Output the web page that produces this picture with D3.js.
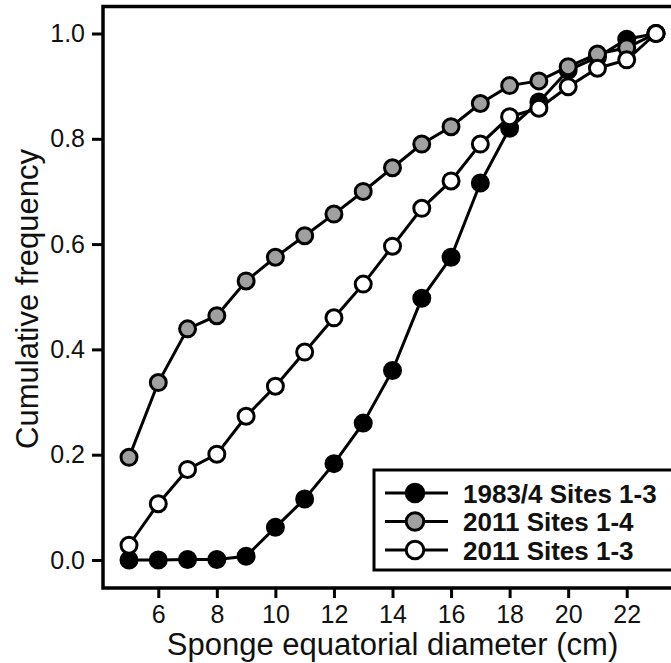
<!DOCTYPE html>
<html>
<head>
<meta charset="utf-8">
<script src="https://cdn.jsdelivr.net/npm/d3@7"></script>
<style>
  html, body { margin: 0; padding: 0; background: #fff; }
  svg { display: block; font-family: "Liberation Sans", Arial, Helvetica, sans-serif; }
</style>
</head>
<body>
<svg id="chart" width="671" height="663"></svg>
<script>
// ---- data ----
const diameters = [5,6,7,8,9,10,11,12,13,14,15,16,17,18,19,20,21,22,23];
const sites1983 = [0,0,0.001,0.001,0.007,0.062,0.116,0.183,0.260,0.360,0.497,0.575,0.716,0.820,0.870,0.930,0.955,0.989,1.0];
const sites2011_14 = [0.195,0.337,0.439,0.464,0.530,0.575,0.616,0.657,0.700,0.745,0.790,0.823,0.867,0.901,0.910,0.937,0.961,0.973,1.0];
const sites2011_13 = [0.028,0.107,0.172,0.201,0.273,0.330,0.395,0.460,0.524,0.596,0.668,0.720,0.790,0.842,0.858,0.899,0.934,0.950,1.0];
const seriesNames = ["1983/4 Sites 1-3", "2011 Sites 1-4", "2011 Sites 1-3"];
const seriesFills = ["#000000", "#a0a0a0", "#ffffff"];
const xTicks = [6,8,10,12,14,16,18,20,22];
const yTicks = [0,0.2,0.4,0.6,0.8,1.0];

const series = [sites1983, sites2011_14, sites2011_13].map((vals, i) => ({
  name: seriesNames[i], fill: seriesFills[i],
  points: diameters.map((d, j) => ({x: d, y: vals[j]}))
}));

const svg = d3.select("#chart");
const frame = {left: 103, top: 6.5, right: 690, bottom: 588};

const x = d3.scaleLinear().domain([5, 23]).range([129, 656]);
const y = d3.scaleLinear().domain([0, 1]).range([560, 33.5]);

// frame
svg.append("rect")
  .attr("x", frame.left).attr("y", frame.top)
  .attr("width", frame.right - frame.left).attr("height", frame.bottom - frame.top)
  .attr("fill", "none").attr("stroke", "#000").attr("stroke-width", 3.5);

// axes
const xAxis = svg.append("g").attr("transform", `translate(0,${frame.bottom})`)
  .call(d3.axisBottom(x).tickValues(xTicks).tickFormat(d3.format("d")).tickSize(10).tickPadding(7));
const yAxis = svg.append("g").attr("transform", `translate(${frame.left},0)`)
  .call(d3.axisLeft(y).tickValues(yTicks).tickFormat(d3.format(".1f")).tickSize(11).tickPadding(7));
[xAxis, yAxis].forEach(g => {
  g.select(".domain").remove();
  g.selectAll(".tick line").attr("stroke", "#000").attr("stroke-width", 3);
  g.selectAll(".tick text").attr("fill", "#111").style("font-size", "25px")
    .style("font-family", '"Liberation Sans", Arial, sans-serif');
});

// axis titles
svg.append("text")
  .attr("x", (x(5) + x(23)) / 2 + 0).attr("y", 655)
  .attr("text-anchor", "middle").style("font-size", "31px").attr("fill", "#111")
  .text("Sponge equatorial diameter (cm)");
svg.append("text")
  .attr("transform", "translate(38,299) rotate(-90)")
  .attr("text-anchor", "middle").style("font-size", "31px").attr("fill", "#111")
  .text("Cumulative frequency");

// series
const line = d3.line().x(d => x(d.x)).y(d => y(d.y));
series.forEach(s => {
  const g = svg.append("g");
  g.append("path").datum(s.points).attr("d", line)
    .attr("fill", "none").attr("stroke", "#000").attr("stroke-width", 3);
  g.selectAll("circle").data(s.points).join("circle")
    .attr("cx", d => x(d.x)).attr("cy", d => y(d.y)).attr("r", 8)
    .attr("fill", s.fill).attr("stroke", "#000").attr("stroke-width", 3);
});

// legend
const leg = svg.append("g");
leg.append("rect").attr("x", 374).attr("y", 470).attr("width", 400).attr("height", 100)
  .attr("fill", "#fff").attr("stroke", "#000").attr("stroke-width", 3);
series.forEach((s, i) => {
  const ry = 493 + i * 28.5;
  leg.append("line").attr("x1", 385).attr("x2", 448).attr("y1", ry).attr("y2", ry)
    .attr("stroke", "#000").attr("stroke-width", 3);
  leg.append("circle").attr("cx", 415).attr("cy", ry).attr("r", 8.8)
    .attr("fill", s.fill).attr("stroke", "#000").attr("stroke-width", 3);
  leg.append("text").attr("x", 463).attr("y", ry + 9.5)
    .style("font-size", "26px").style("font-weight", "bold").attr("fill", "#111")
    .text(s.name);
});
</script>
</body>
</html>
